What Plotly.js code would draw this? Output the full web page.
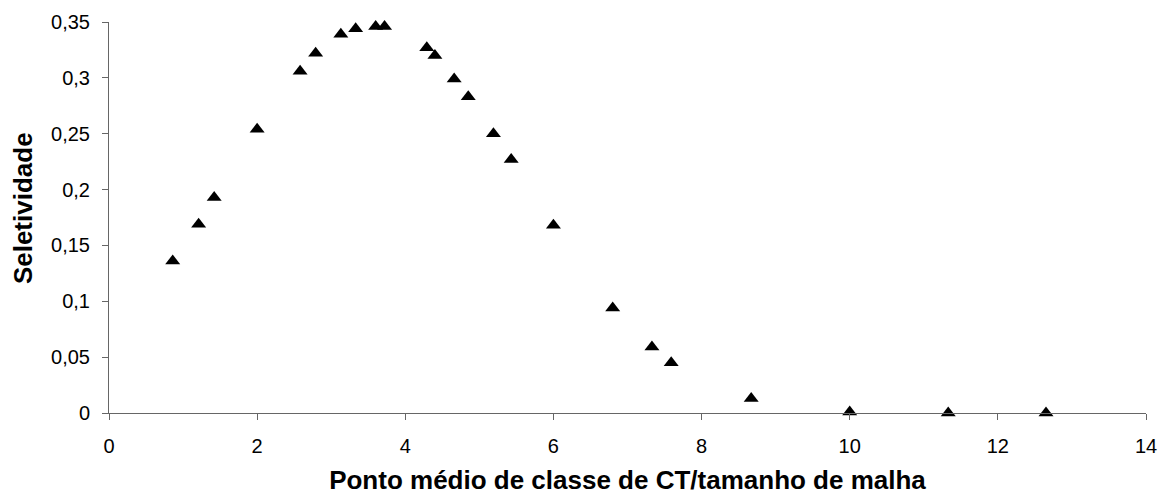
<!DOCTYPE html>
<html>
<head>
<meta charset="utf-8">
<script src="https://cdn.plot.ly/plotly-3.0.1.min.js"></script>
<style>html,body{margin:0;padding:0;background:#fff;}#chart{width:1167px;height:497px;}</style>
</head>
<body>
<div id="chart"></div>
<script>
const pontoMedio = [0.86, 1.21, 1.42, 2.0, 2.58, 2.79, 3.13, 3.33, 3.6, 3.72, 4.29, 4.4, 4.66, 4.85, 5.19, 5.43, 6.0, 6.8, 7.33, 7.59, 8.67, 10.0, 11.33, 12.65];
const seletividade = [0.136, 0.169, 0.193, 0.254, 0.306, 0.322, 0.339, 0.344, 0.346, 0.346, 0.327, 0.320, 0.299, 0.283, 0.250, 0.227, 0.168, 0.094, 0.059, 0.045, 0.013, 0.001, 0.0, 0.0];
const xTicks = [0, 2, 4, 6, 8, 10, 12, 14];
const yTicks = [0, 0.05, 0.1, 0.15, 0.2, 0.25, 0.3, 0.35];
const yTickText = ['0', '0,05', '0,1', '0,15', '0,2', '0,25', '0,3', '0,35'];
const xTitle = 'Ponto médio de classe de CT/tamanho de malha';
const yTitle = 'Seletividade';

const trace = {
  x: pontoMedio,
  y: seletividade,
  type: 'scatter',
  mode: 'markers',
  marker: {symbol: 'triangle-up', size: 13, color: '#000', line: {width: 0}},
  cliponaxis: false,
  hoverinfo: 'x+y'
};

const axisFont = {family: 'Liberation Sans, Arial, sans-serif', size: 20, color: '#000'};
const titleFont = {family: 'Liberation Sans, Arial, sans-serif', size: 26, color: '#000', weight: 'bold'};

const layout = {
  width: 1167,
  height: 497,
  margin: {l: 109, r: 21, t: 22, b: 84},
  paper_bgcolor: '#fff',
  plot_bgcolor: '#fff',
  showlegend: false,
  separators: ',.',
  xaxis: {
    range: [0, 14],
    tickvals: xTicks,
    ticktext: xTicks.map(String),
    showgrid: false,
    zeroline: false,
    showline: true,
    linecolor: '#666',
    linewidth: 1,
    ticks: 'outside',
    ticklen: 6,
    tickcolor: '#666',
    tickfont: axisFont,
    ticklabelstandoff: 9,
    title: {text: xTitle, font: titleFont, standoff: 14},
    automargin: false
  },
  yaxis: {
    range: [0, 0.35],
    tickvals: yTicks,
    ticktext: yTickText,
    showgrid: false,
    zeroline: false,
    showline: true,
    linecolor: '#666',
    linewidth: 1,
    ticks: 'outside',
    ticklen: 6,
    tickcolor: '#666',
    tickfont: axisFont,
    ticklabelstandoff: 8,
    automargin: false
  },
  annotations: [{
    text: yTitle,
    font: titleFont,
    textangle: -90,
    xref: 'paper', yref: 'paper',
    x: 0, y: 0.524,
    xanchor: 'center', yanchor: 'middle',
    xshift: -86,
    showarrow: false
  }]
};

Plotly.newPlot('chart', [trace], layout, {displayModeBar: false, staticPlot: true});
</script>
</body>
</html>
